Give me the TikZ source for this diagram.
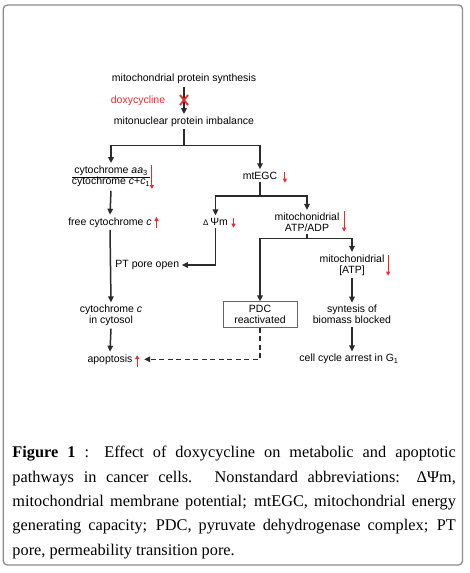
\documentclass[tikz,border=0pt]{standalone}
\usepackage{fontspec}
\setmainfont{Liberation Sans}
\newfontfamily\capfont{Liberation Serif}
\usetikzlibrary{arrows.meta, calc}
\definecolor{lncol}{HTML}{2B2B2B}
\definecolor{upred}{HTML}{EE2A2F}
\definecolor{framegray}{HTML}{8C8C8C}

\begin{document}
\begin{tikzpicture}[
    x=1pt, y=-1pt,
    txt/.style    = {font=\fontsize{10.5}{11}\selectfont, inner sep=2.5pt, align=center},
    ln/.style     = {draw=lncol, line width=1.5pt},
    arr/.style    = {ln, -{Triangle[length=6pt, width=5.5pt]}},
    dasharr/.style= {arr, dash pattern=on 5pt off 3.5pt},
    rarr/.style   = {draw=upred, line width=1pt, -{Triangle[length=4pt, width=4pt]}},
    pdcbox/.style = {txt, draw=black!60, line width=0.8pt, minimum width=74pt, minimum height=25.5pt},
  ]

  \useasboundingbox (0,0) rectangle (469,573);

  % ---------- frame ----------
  \draw[framegray, line width=1.3pt, rounded corners=4pt] (3.3,5) rectangle (462.5,565);

  % ---------- key points ----------
  \coordinate (xmark) at (184,100);
  \coordinate (b1) at (184,145.7);
  \coordinate (b2) at (260,196);
  \coordinate (b3) at (307,238.3);

  % ---------- nodes ----------
  \node[txt] (synth) at (184,79) {mitochondrial protein synthesis};
  \node[txt, text=upred] (doxy) at (138,100.7) {doxycycline};
  \node[txt] (imbal) at (184,121.7) {mitonuclear protein imbalance};

  \node[txt] (cyt) at (111,177)
    {\setlength{\tabcolsep}{0pt}\begin{tabular}{c}cytochrome \textit{aa}\textsubscript{3}\\\hline
     cytochrome \textit{c}+\textit{c}\textsubscript{1}\end{tabular}};
  \node[txt] (free) at (110,222.3) {free cytochrome \textit{c}};
  \node[txt] (ptpore) at (147.3,265) {PT pore open};
  \node[txt] (cytosol) at (111,315.5) {cytochrome \textit{c}\\in cytosol};
  \node[txt] (apop) at (110,359.3) {apoptosis};

  \node[txt] (mtegc) at (260,175.7) {mtEGC};
  \node[txt] (dpsi) at (215.5,221.7) {{\fontsize{8}{8}\selectfont Δ}\,Ψm};
  \node[txt] (atpadp) at (307,222) {mitochonidrial\\ATP/ADP};
  \node[pdcbox] (pdc) at (260,314.5) {PDC\\reactivated};
  \node[txt] (atp) at (352,265) {mitochonidrial\\{[ATP]}};
  \node[txt] (biomass) at (352,314.7) {syntesis of\\biomass blocked};
  \node[txt] (arrest) at (349,359) {cell cycle arrest in G\textsubscript{1}};

  % ---------- connectors ----------
  \draw[arr] (synth.south) -- (imbal.north);
  \draw[ln] (imbal.south) -- (b1);
  \draw[arr] (b1) -| (cyt.north);
  \draw[arr] (b1) -| (mtegc.north);
  \draw[arr] (cyt.south) -- (free.north);
  \draw[arr] (free.south) -- (cytosol.north);
  \draw[arr] (cytosol.south) -- (apop.north);
  \draw[ln] (mtegc.south) -- (b2);
  \draw[arr] (b2) -| (dpsi.north);
  \draw[arr] (b2) -| (atpadp.north);
  \draw[arr] (dpsi.south) |- (ptpore.east);
  \draw[ln] (atpadp.south) -- (b3);
  \draw[arr] (b3) -| (pdc.north);
  \draw[arr] (b3) -| (atp.north);
  \draw[arr] (atp.south) -- (biomass.north);
  \draw[arr] (biomass.south) -- (biomass.south |- arrest.north);
  \draw[dasharr] (pdc.south) |- ([xshift=9pt]apop.east);

  % ---------- inhibition mark ----------
  \draw[upred, line width=1.8pt] ([shift={(-4,-5)}]xmark) -- ([shift={(4,5)}]xmark);
  \draw[upred, line width=1.8pt] ([shift={(4,-5)}]xmark) -- ([shift={(-4,5)}]xmark);

  % ---------- red up / down marks ----------
  \draw[rarr] ([xshift=-1pt]cyt.east)    ++(0,-12) -- ++(0,24);
  \draw[rarr] ([xshift=2pt]free.east)    ++(0,5.5) -- ++(0,-11);
  \draw[rarr] ([xshift=5pt]mtegc.east)   ++(0,-4)  -- ++(0,11);
  \draw[rarr] ([xshift=3pt]dpsi.east)    ++(0,-4)  -- ++(0,10);
  \draw[rarr] ([xshift=2pt]atpadp.east)  ++(0,-11) -- ++(0,20.7);
  \draw[rarr] ([xshift=1pt]atp.east)     ++(0,-10) -- ++(0,20.7);
  \draw[rarr] ([xshift=2pt]apop.east)    ++(0,7.5) -- ++(0,-11.7);

  % ---------- caption ----------
  \node[anchor=north west, inner sep=0pt, text width=443.4pt, align=justify,
        font=\capfont\fontsize{16.3}{24.4}\selectfont] (cap) at (12.3,446)
    {\textbf{Figure 1} : Effect of doxycycline on metabolic and apoptotic\linebreak
     pathways in cancer cells. Nonstandard abbreviations: ΔΨm,\linebreak
     mitochondrial membrane potential; mtEGC, mitochondrial energy\linebreak
     generating capacity; PDC, pyruvate dehydrogenase complex; PT\linebreak
     pore, permeability transition pore.};

\end{tikzpicture}
\end{document}
